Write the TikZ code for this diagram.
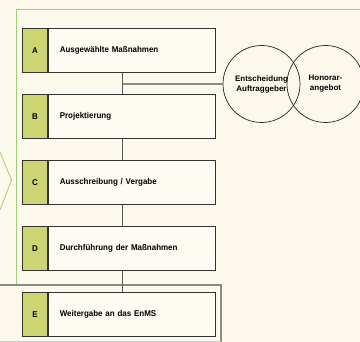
\documentclass[tikz,border=0pt]{standalone}
\usepackage{fontspec}
\setmainfont{Liberation Sans}
\newfontfamily\stepfont{Liberation Sans}[FakeStretch=0.95]
\usetikzlibrary{positioning}

\definecolor{bgcream}{HTML}{FCF8EC}
\definecolor{framegreen}{HTML}{9FD072}
\definecolor{tabgreen}{HTML}{CDD572}
\definecolor{boxfill}{HTML}{FEFBF2}
\definecolor{linegrey}{HTML}{8C8B86}

\tikzset{
	tab/.style={draw=black!80, fill=tabgreen, line width=0.8pt, minimum width=24.6pt, minimum height=44pt, inner sep=0pt, font=\stepfont\bfseries\fontsize{8.4}{9}\selectfont},
	stepbox/.style={draw=black!80, fill=boxfill, line width=0.8pt, minimum width=167pt, minimum height=44pt, inner xsep=11.7pt, inner ysep=0pt, text width=143.6pt, align=left, font=\stepfont\bfseries\fontsize{8.4}{9}\selectfont},
	decision/.style={circle, draw=black!85, line width=0.7pt, minimum size=77pt, inner sep=0pt, align=center, font=\bfseries\fontsize{8}{10}\selectfont},
	conn/.style={draw=black!65, line width=0.7pt},
	hline/.style={draw=linegrey, line width=1.3pt}
}

\begin{document}
\begin{tikzpicture}[x=1pt,y=1pt]
	\fill[bgcream] (0,0) rectangle (360,342);
	\useasboundingbox (0,0) rectangle (360,342);
	% green frame and chevron
	\draw[framegreen, line width=0.9pt] (16.5,57) -- (16.5,333) -- (360,333);
	\draw[framegreen, line width=0.8pt] (0,190) -- (11.5,162) -- (0,132);
	% grey frame round the last step
	\draw[linegrey, line width=1.4pt] (0,57) -- (221,57) -- (221,0);
	\draw[black!20, line width=0.6pt] (0,0.5) -- (221,0.5);
	% steps
	\node[tab] (tA) at (35,291.7) {A};
	\node[stepbox, right=0pt of tA] (A) {Ausgewählte Maßnahmen};
	\node[tab, below=21.3pt of tA] (tB) {B};
	\node[stepbox, right=0pt of tB] (B) {Projektierung};
	\node[tab, below=21.3pt of tB] (tC) {C};
	\node[stepbox, right=0pt of tC] (C) {Ausschreibung / Vergabe};
	\node[tab, below=21.3pt of tC] (tD) {D};
	\node[stepbox, right=0pt of tD] (D) {Durchführung der Maßnahmen};
	\node[tab, below=21.3pt of tD] (tE) {E};
	\node[stepbox, right=0pt of tE] (E) {Weitergabe an das EnMS};
	% decision circles
	\node[decision] (ent) at (261.5,258) {Entscheidung\\Auftraggeber};
	\node[decision] (hon) at (325.5,258) {Honorar-\\angebot};
	% connectors
	\coordinate (c) at (122.5,0);
	\draw[hline] (c |- ent.west) -- (ent.west);
	\draw[conn] (A.south -| c) -- (B.north -| c);
	\draw[conn] (B.south -| c) -- (C.north -| c);
	\draw[conn] (C.south -| c) -- (D.north -| c);
	\draw[conn] (D.south -| c) -- (E.north -| c);
\end{tikzpicture}
\end{document}
